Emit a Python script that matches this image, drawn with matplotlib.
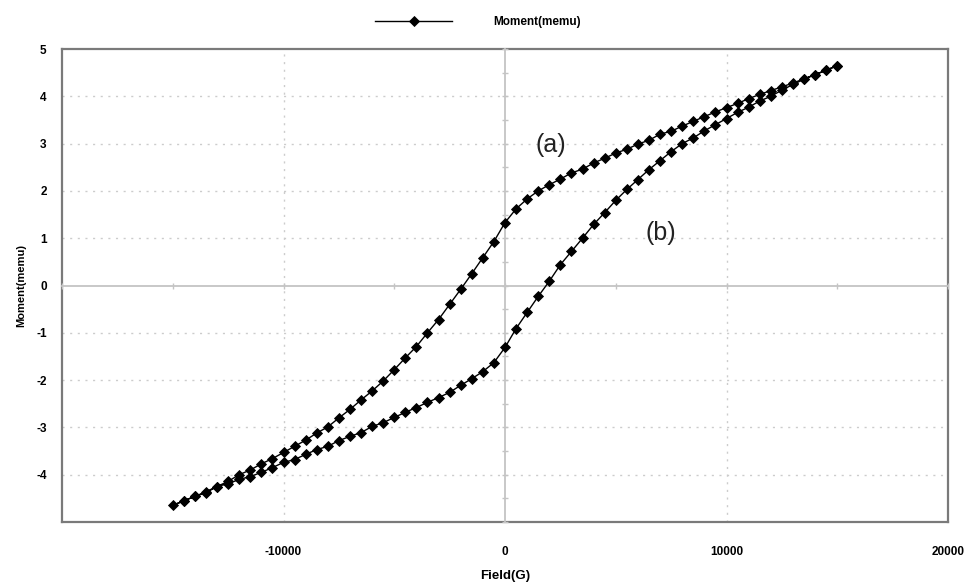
import matplotlib
matplotlib.use("Agg")
import matplotlib.pyplot as plt
from matplotlib.ticker import MultipleLocator, FixedLocator

# ---- data ----
field_upper = [15000, 14500, 14000, 13500, 13000, 12500, 12000, 11500, 11000, 10500,
               10000, 9500, 9000, 8500, 8000, 7500, 7000, 6500, 6000, 5500,
               5000, 4500, 4000, 3500, 3000, 2500, 2000, 1500, 1000, 500,
               0, -500, -1000, -1500, -2000, -2500, -3000, -3500, -4000, -4500,
               -5000, -5500, -6000, -6500, -7000, -7500, -8000, -8500, -9000, -9500,
               -10000, -10500, -11000, -11500, -12000, -12500, -13000, -13500, -14000, -14500,
               -15000]
moment_upper = [4.65, 4.55, 4.46, 4.37, 4.28, 4.20, 4.12, 4.04, 3.95, 3.85,
                3.76, 3.67, 3.57, 3.47, 3.37, 3.26, 3.20, 3.07, 2.99, 2.88,
                2.80, 2.69, 2.59, 2.46, 2.38, 2.25, 2.13, 2.00, 1.83, 1.62,
                1.33, 0.93, 0.59, 0.25, -0.08, -0.40, -0.72, -1.00, -1.29, -1.53,
                -1.78, -2.02, -2.23, -2.42, -2.62, -2.80, -2.99, -3.12, -3.27, -3.40,
                -3.53, -3.66, -3.77, -3.90, -4.00, -4.14, -4.25, -4.36, -4.46, -4.55,
                -4.65]
field_lower = [-14500, -14000, -13500, -13000, -12500, -12000, -11500, -11000, -10500,
               -10000, -9500, -9000, -8500, -8000, -7500, -7000, -6500, -6000, -5500,
               -5000, -4500, -4000, -3500, -3000, -2500, -2000, -1500, -1000, -500,
               0, 500, 1000, 1500, 2000, 2500, 3000, 3500, 4000, 4500,
               5000, 5500, 6000, 6500, 7000, 7500, 8000, 8500, 9000, 9500,
               10000, 10500, 11000, 11500, 12000, 12500, 13000, 13500, 14000, 14500, 15000]
moment_lower = [-4.55, -4.46, -4.38, -4.25, -4.19, -4.10, -4.04, -3.95, -3.85,
                -3.74, -3.68, -3.57, -3.47, -3.40, -3.28, -3.19, -3.11, -2.98, -2.90,
                -2.79, -2.68, -2.58, -2.47, -2.37, -2.26, -2.11, -1.97, -1.82, -1.63,
                -1.31, -0.91, -0.57, -0.23, 0.09, 0.44, 0.72, 1.00, 1.29, 1.54,
                1.80, 2.03, 2.24, 2.45, 2.64, 2.83, 3.00, 3.12, 3.27, 3.40,
                3.53, 3.66, 3.77, 3.90, 4.00, 4.13, 4.25, 4.36, 4.46, 4.55, 4.65]

fields = field_upper + field_lower
moments = moment_upper + moment_lower

series_label = "Moment(memu)"
x_label = "Field(G)"
y_label = "Moment(memu)"
x_tick_values = [-10000, 0, 10000, 20000]
x_tick_labels = ["-10000", "0", "10000", "20000"]
y_tick_values = [5, 4, 3, 2, 1, 0, -1, -2, -3, -4]
y_tick_labels = ["5", "4", "3", "2", "1", "0", "-1", "-2", "-3", "-4"]
annotations = [("(a)", 2050, 2.98), ("(b)", 7050, 1.12)]

# ---- figure ----
plt.rcParams['font.family'] = ['Liberation Sans', 'DejaVu Sans']
fig = plt.figure(figsize=(9.72, 5.84), dpi=100)
pos = [62/972, 1 - 522/584, (948-62)/972, (522-49)/584]
ax = fig.add_axes(pos)
ax.set_xlim(-20000, 20000)
ax.set_ylim(-5, 5)

frame_col = '#7a7a7a'
for s in ax.spines.values():
    s.set_color(frame_col)
    s.set_linewidth(1.6)

ax.xaxis.set_major_locator(FixedLocator(x_tick_values))
ax.set_xticklabels(x_tick_labels, fontweight='semibold')
ax.yaxis.set_major_locator(FixedLocator(y_tick_values))
ax.set_yticklabels(y_tick_labels, fontweight='semibold')
ax.tick_params(length=0, labelsize=8.5, pad=11)
ax.tick_params(axis='x', pad=17)

# dotted grid
for yv in [4, 3, 2, 1, -1, -2, -3, -4]:
    ax.axhline(yv, color='#cccccc', lw=1.0, ls=(0, (1.5, 4)), zorder=0)
for xv in [-10000, 10000]:
    ax.axvline(xv, color='#cccccc', lw=1.0, ls=(0, (1.5, 4)), zorder=0)

ax.set_xlabel(x_label, fontsize=9.5, labelpad=9, fontweight='semibold')
ax.set_ylabel(y_label, fontsize=8, labelpad=7, fontweight='semibold')

# zero-crossing axes with tick marks
ax2 = fig.add_axes(pos, sharex=ax, sharey=ax)
ax2.patch.set_visible(False)
for side in ['top', 'right']:
    ax2.spines[side].set_visible(False)
ax2.spines['left'].set_position(('data', 0))
ax2.spines['bottom'].set_position(('data', 0))
ax2.spines['left'].set_color('#c4c4c4')
ax2.spines['bottom'].set_color('#c4c4c4')
ax2.spines['left'].set_linewidth(1.3)
ax2.spines['bottom'].set_linewidth(1.3)
ax2.xaxis.set_major_locator(MultipleLocator(5000))
ax2.yaxis.set_major_locator(MultipleLocator(0.5))
ax2.tick_params(direction='inout', length=5, width=1, color='#c4c4c4',
                labelbottom=False, labelleft=False)

# data
ax2.plot(fields, moments, color='black', lw=1.0, marker='D', markersize=4.6,
         markeredgewidth=0.6, markeredgecolor='black', markerfacecolor='black',
         label=series_label, zorder=5)

for txt, xv, yv in annotations:
    ax2.text(xv, yv, txt, fontsize=18, ha='center', va='center', color='#222222')

leg = fig.legend(*ax2.get_legend_handles_labels(), loc='center',
                 bbox_to_anchor=(478/972, 1 - 22/584), frameon=False,
                 prop={'size': 8.5, 'weight': 'semibold'},
                 handlelength=6.5, handletextpad=3.5)

fig.savefig('out.png', dpi=100)
